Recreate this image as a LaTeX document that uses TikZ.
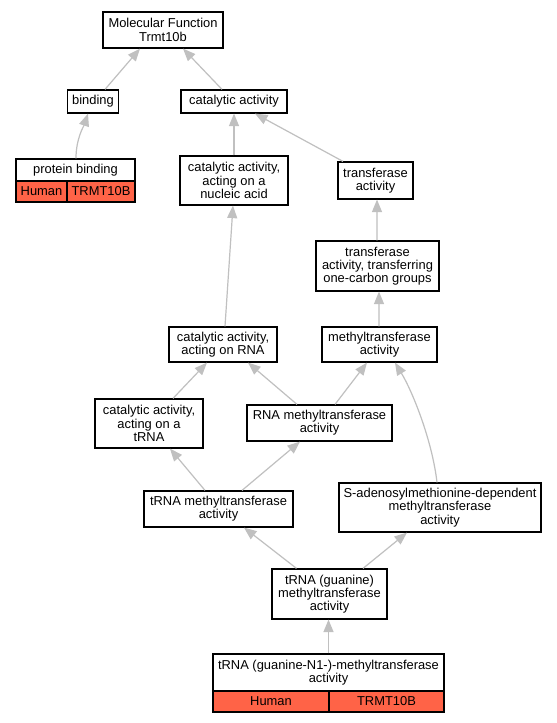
\documentclass[tikz,border=0pt]{standalone}
\usepackage{fontspec}
\setmainfont{Liberation Sans}
\usetikzlibrary{arrows.meta,calc}
\definecolor{edgec}{RGB}{192,192,192}
\definecolor{tomatoc}{RGB}{255,99,71}
\begin{document}
\begin{tikzpicture}[x=1bp,y=-1bp,
  font=\fontsize{12.9bp}{13.3bp}\selectfont,
  box/.style={draw=black, line width=1.2bp, fill=white, inner sep=0pt, align=center},
  cell/.style={draw=black, line width=1.4bp, fill=tomatoc, inner sep=0pt},
  edge/.style={draw=edgec, line width=1.2bp, -{Triangle[length=12.5bp,width=10bp]}}]
\fill[white] (0,0) rectangle (557,723);
\useasboundingbox (0,0) rectangle (557,723);
% nodes
\node[box, minimum width=120bp, minimum height=36bp] (mf) at (163,30) {Molecular Function\\Trmt10b};
\node[box, minimum width=51bp, minimum height=23bp] (bind) at (93,101.5) {binding};
\node[box, minimum width=106bp, minimum height=23bp] (cat) at (234,101.5) {catalytic activity};
\node[box, line width=1.4bp, minimum width=119bp, minimum height=22bp] (pbh) at (75.5,170) {protein binding};
\node[cell, minimum width=51bp, minimum height=21bp] (pbc1) at (41.5,191.5) {Human};
\node[cell, minimum width=68bp, minimum height=21bp] (pbc2) at (101,191.5) {TRMT10B};
\node[box, minimum width=108bp, minimum height=49bp] (catnuc) at (234,180.5) {catalytic activity,\\acting on a\\nucleic acid};
\node[box, minimum width=75bp, minimum height=37bp] (trans) at (375.5,180.5) {transferase\\activity};
\node[box, minimum width=123bp, minimum height=50bp] (onec) at (377.5,266) {transferase\\activity, transferring\\one-carbon groups};
\node[box, minimum width=108bp, minimum height=35bp] (catrna) at (223,344.5) {catalytic activity,\\acting on RNA};
\node[box, minimum width=115bp, minimum height=35bp] (methyl) at (379.5,344.5) {methyltransferase\\activity};
\node[box, minimum width=108bp, minimum height=49bp] (cattrna) at (149,423.5) {catalytic activity,\\acting on a\\tRNA};
\node[box, minimum width=145bp, minimum height=36bp] (rnam) at (319.5,423) {RNA methyltransferase\\activity};
\node[box, minimum width=149bp, minimum height=36bp] (trnam) at (218.5,509) {tRNA methyltransferase\\activity};
\node[box, minimum width=202bp, minimum height=49bp] (sam) at (440,507.5) {S-adenosylmethionine-dependent\\methyltransferase\\activity};
\node[box, minimum width=115bp, minimum height=50bp] (guan) at (329.5,594) {tRNA (guanine)\\methyltransferase\\activity};
\node[box, line width=1.4bp, minimum width=231bp, minimum height=37bp] (n1h) at (328.5,672.5) {tRNA (guanine-N1-)-methyltransferase\\activity};
\node[cell, minimum width=116bp, minimum height=21bp] (n1c1) at (271,701.5) {Human};
\node[cell, minimum width=115bp, minimum height=21bp] (n1c2) at (386.5,701.5) {TRMT10B};
% edges
\draw[edge] ($(bind.north)+(12,0)$) -- ($(mf.south)+(-23,0)$);
\draw[edge] ($(cat.north)+(-12,0)$) -- ($(mf.south)+(20,0)$);
\draw[edge] ($(pbh.north)+(0.5,0)$) .. controls +(0,-20) and +(-4,12) .. ($(bind.south)+(-5,0)$);
\draw[edge] (catnuc.north) -- (cat.south);
\draw[edge] ($(trans.north)+(-32.5,0)$) -- ($(cat.south)+(21,0)$);
\draw[edge] ($(onec.north)+(-0.5,0)$) -- ($(trans.south)+(1.5,0)$);
\draw[edge] ($(catrna.north)+(2,0)$) -- ($(catnuc.south)+(-1,0)$);
\draw[edge] ($(methyl.north)+(-0.5,0)$) -- ($(onec.south)+(1.5,0)$);
\draw[edge] ($(cattrna.north)+(24,0)$) -- ($(catrna.south)+(-16,0)$);
\draw[edge] ($(rnam.north)+(-22.5,0)$) -- ($(catrna.south)+(25,0)$);
\draw[edge] ($(rnam.north)+(15.5,0)$) -- ($(methyl.south)+(-12.5,0)$);
\draw[edge] ($(trnam.north)+(-13.5,0)$) -- ($(cattrna.south)+(21,0)$);
\draw[edge] ($(trnam.north)+(23.5,0)$) -- ($(rnam.south)+(-19.5,0)$);
\draw[edge] ($(sam.north)+(-3,0)$) .. controls +(-5,-43) and +(17,28) .. ($(methyl.south)+(15.5,0)$);
\draw[edge] ($(guan.north)+(-33,0)$) -- ($(trnam.south)+(25.5,0)$);
\draw[edge] ($(guan.north)+(33.5,0)$) -- ($(sam.south)+(-33,0)$);
\draw[edge] (n1h.north) -- (n1h.north |- guan.south);
\end{tikzpicture}
\end{document}
